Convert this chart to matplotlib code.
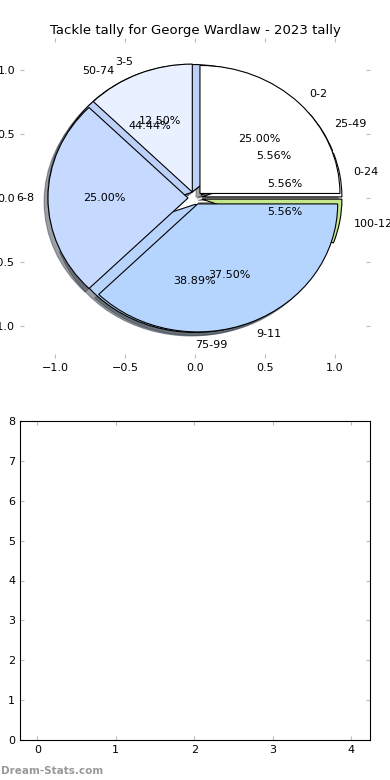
import matplotlib
matplotlib.use("Agg")
import matplotlib.pyplot as plt

# tackles per game
tally_labels = ["0-2", "3-5", "6-8", "9-11"]
tally_share = [25.00, 12.50, 25.00, 37.50]
tally_colors = ["#ffffff", "#e9f0ff", "#c6d9ff", "#b5d5ff"]

# season range buckets
range_labels = ["0-24", "25-49", "50-74", "75-99", "100-124"]
range_share = [5.56, 5.56, 44.44, 38.89, 5.56]
range_colors = ["#ffffff", "#eeeeee", "#bcd0f8", "#b8d4fc", "#c6e88c"]

fig = plt.figure(figsize=(3.9, 7.8), dpi=100)
ax = fig.add_axes([20 / 390, 1 - 358 / 780, 350 / 390, 320 / 780])
ax2 = fig.add_axes([20 / 390, 1 - 740 / 780, 350 / 390, 319 / 780])

wedge = {"edgecolor": "black", "linewidth": 0.8}
txt = {"fontsize": 8}

_, lab_b, _ = ax.pie(range_share, labels=range_labels, colors=range_colors,
                     explode=[0.05] * len(range_share), autopct="%1.2f%%",
                     shadow=True, wedgeprops=wedge, textprops=txt)
_, lab_a, _ = ax.pie(tally_share, labels=tally_labels, colors=tally_colors,
                     explode=[0.05] * len(tally_share), autopct="%1.2f%%",
                     shadow=True, wedgeprops=wedge, textprops=txt)

# label sitting (almost) straight below the centre starts at the centre line
for t in list(lab_a) + list(lab_b):
    if abs(t.get_position()[0]) < 0.02:
        t.set_horizontalalignment("left")

ax.set_aspect("auto")
ax.set_xlim(-1.25, 1.25)
ax.set_ylim(-1.25, 1.25)
ax.set_xticks([-1.0, -0.5, 0.0, 0.5, 1.0])
ax.set_yticks([-1.0, -0.5, 0.0, 0.5, 1.0])
ax.set_frame_on(False)
ax.set_title("Tackle tally for George Wardlaw - 2023 tally", fontsize=9.5, pad=3)

ax2.set_xlim(-0.22, 4.24)
ax2.set_ylim(0, 8)
ax2.set_xticks(range(5))
ax2.set_yticks(range(9))

for a in (ax, ax2):
    a.tick_params(direction="in", length=3, color="#bbbbbb", labelsize=8,
                  top=True, right=True)

fig.text(0.002, 0.008, "Dream-Stats.com", fontsize=7.5, color="#999999",
         fontweight="bold")

plt.savefig("out.png", dpi=100)
plt.close()
